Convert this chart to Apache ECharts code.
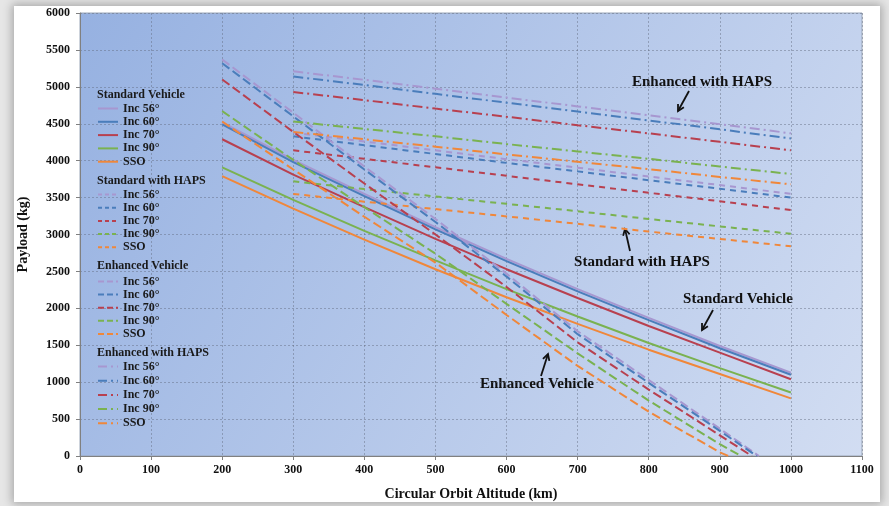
<!DOCTYPE html>
<html><head><meta charset="utf-8">
<script src="https://cdn.jsdelivr.net/npm/echarts@6/dist/echarts.min.js"></script>
<style>
html,body{margin:0;padding:0;width:889px;height:506px;overflow:hidden;background:#e6e6e6;}
#card{position:absolute;left:14px;top:6px;width:866px;height:496px;background:#fff;box-shadow:0 0 9px 2px rgba(0,0,0,0.28);}
#chart{position:absolute;left:0;top:0;width:889px;height:506px;}
</style></head><body><div id="card"></div><div id="chart"></div>
<script>
// ---------- DATA ----------
const xTicks = [0,100,200,300,400,500,600,700,800,900,1000,1100];
const yTicks = [0,500,1000,1500,2000,2500,3000,3500,4000,4500,5000,5500,6000];
const incNames = ['Inc 56°','Inc 60°','Inc 70°','Inc 90°','SSO'];

// Standard Vehicle (solid)
const altStd = [200,300,400,500,600,700,800,900,1000];
const sv56  = [4520,4010,3550,3100,2670,2260,1870,1490,1130];
const sv60  = [4490,3980,3520,3070,2640,2230,1840,1460,1100];
const sv70  = [4290,3810,3370,2940,2530,2140,1760,1400,1040];
const sv90  = [3910,3470,3050,2650,2260,1890,1530,1190,860];
const svSSO = [3790,3350,2930,2530,2150,1790,1440,1110,780];

// Standard with HAPS (dashed)
const altHaps = [300,400,500,600,700,800,900,1000];
const sh56  = [4380,4260,4140,4020,3905,3785,3670,3550];
const sh60  = [4330,4210,4090,3970,3855,3735,3620,3500];
const sh70  = [4140,4025,3910,3795,3680,3565,3450,3330];
const sh90  = [3720,3615,3515,3415,3315,3210,3110,3010];
const shSSO = [3550,3445,3345,3245,3145,3040,2940,2840];

// Enhanced Vehicle (long dash) - altitudes incl. point where payload reaches zero
const altE56  = [200,300,400,500,600,700,800,900,955];
const altE60  = [200,300,400,500,600,700,800,900,952];
const altE70  = [200,300,400,500,600,700,800,900,945];
const altE90  = [200,300,400,500,600,700,800,900,930];
const altESSO = [200,300,400,500,600,700,800,900,912];
const ev56  = [5370,4650,3920,3210,2470,1690,1030,370,0];
const ev60  = [5320,4600,3880,3170,2430,1650,990,340,0];
const ev70  = [5100,4390,3690,3000,2290,1540,900,280,0];
const ev90  = [4670,4010,3370,2740,2060,1390,750,160,0];
const evSSO = [4530,3880,3240,2620,1910,1220,600,50,0];

// Enhanced with HAPS (dash-dot)
const eh56  = [5210,5095,4975,4855,4735,4615,4495,4370];
const eh60  = [5140,5025,4905,4785,4665,4545,4425,4300];
const eh70  = [4930,4820,4705,4595,4480,4370,4255,4140];
const eh90  = [4530,4430,4330,4225,4125,4025,3920,3820];
const ehSSO = [4390,4290,4190,4085,3985,3885,3780,3680];

// ---------- STYLE ----------
const colors = ['#a797d0','#4a7dbb','#b8404f','#7ab250','#f0873a'];
const serif = '"Liberation Serif","DejaVu Serif",serif';
const groups = [
  {key:'SV', title:'Standard Vehicle', dash:'solid', legDash:'solid', xs:[altStd,altStd,altStd,altStd,altStd], ys:[sv56,sv60,sv70,sv90,svSSO], top:102, gap:0.3, headY:96},
  {key:'SH', title:'Standard with HAPS', dash:[6,5], legDash:[4,3], xs:[altHaps,altHaps,altHaps,altHaps,altHaps], ys:[sh56,sh60,sh70,sh90,shSSO], top:188, gap:0.2, headY:182},
  {key:'EV', title:'Enhanced Vehicle', dash:[9,4], legDash:[6,3], xs:[altE56,altE60,altE70,altE90,altESSO], ys:[ev56,ev60,ev70,ev90,evSSO], top:275, gap:0.1, headY:267},
  {key:'EH', title:'Enhanced with HAPS', dash:[10,4,2,4], legDash:[9,4,2,4], xs:[altHaps,altHaps,altHaps,altHaps,altHaps], ys:[eh56,eh60,eh70,eh90,ehSSO], top:360, gap:1.2, headY:354}
];

const series = [];
const legends = [];
const graphics = [];
groups.forEach(g => {
  const names = [];
  incNames.forEach((n,i) => {
    const name = g.key + '|' + n;
    names.push({name:name, itemStyle:{opacity:0}, lineStyle:{color:colors[i], width:2, type:g.legDash}});
    series.push({
      name: name, type:'line', symbol:'none', silent:true,
      data: g.xs[i].map((x,k) => [x, g.ys[i][k]]),
      lineStyle:{color:colors[i], width:2, type:g.dash},
      itemStyle:{color:colors[i]}
    });
  });
  legends.push({
    data: names, orient:'vertical', left:97, top:g.top, padding:0,
    itemWidth:20, itemHeight:8, itemGap:g.gap, selectedMode:false,
    formatter: nm => nm.split('|')[1],
    textStyle:{fontFamily:serif, fontWeight:'bold', fontSize:12, color:'#1a1a1a', lineHeight:13}
  });
  graphics.push({type:'text', left:97, top:g.headY-7, style:{text:g.title, fontFamily:serif, fontWeight:'bold', fontSize:12, fill:'#1a1a1a'}});
});

function label(txt, cx, cy){
  return {type:'text', x:cx, y:cy, style:{text:txt, fontFamily:serif, fontWeight:'bold', fontSize:15, fill:'#111', align:'center', verticalAlign:'middle'}};
}
function arrow(x1,y1,x2,y2){
  const a = Math.atan2(y2-y1, x2-x1), L = 7, w = 0.5;
  return [
    {type:'line', shape:{x1:x1,y1:y1,x2:x2,y2:y2}, style:{stroke:'#111', lineWidth:1.8}},
    {type:'polyline', shape:{points:[[x2-L*Math.cos(a-w), y2-L*Math.sin(a-w)],[x2,y2],[x2-L*Math.cos(a+w), y2-L*Math.sin(a+w)]]}, style:{stroke:'#111', lineWidth:1.8, fill:null}}
  ];
}
graphics.push(label('Enhanced with HAPS', 702, 82));
graphics.push(...arrow(689, 91, 678, 111));
graphics.push(label('Standard with HAPS', 642, 262));
graphics.push(...arrow(630, 251, 625, 229));
graphics.push(label('Standard Vehicle', 738, 299));
graphics.push(...arrow(713, 310, 702, 330));
graphics.push(label('Enhanced Vehicle', 537, 384));
graphics.push(...arrow(541, 376, 548, 354));

const axisLabelStyle = {fontFamily:serif, fontWeight:'bold', fontSize:12, color:'#111', formatter: v => String(v)};
const splitStyle = {show:true, lineStyle:{type:[2,2], color:'rgba(95,105,125,0.45)', width:1}};

const option = {
  animation:false,
  grid:{left:80, top:13, right:27, bottom:50, show:true,
    backgroundColor:{type:'linear', x:0, y:0, x2:1, y2:1, colorStops:[{offset:0,color:'#96b1e1'},{offset:1,color:'#d2ddf2'}]},
    borderColor:'#9aa6b8', borderWidth:1},
  xAxis:{type:'value', min:xTicks[0], max:xTicks[xTicks.length-1], interval:100,
    axisLine:{show:true, onZero:false, lineStyle:{color:'#808080'}},
    axisTick:{show:true, length:4, lineStyle:{color:'#808080'}},
    axisLabel:Object.assign({margin:8}, axisLabelStyle),
    splitLine:splitStyle,
    name:'Circular Orbit Altitude (km)', nameLocation:'middle', nameGap:31,
    nameTextStyle:{fontFamily:serif, fontWeight:'bold', fontSize:14, color:'#111'}},
  yAxis:{type:'value', min:yTicks[0], max:yTicks[yTicks.length-1], interval:500,
    axisLine:{show:true, lineStyle:{color:'#808080'}},
    axisTick:{show:true, length:4, lineStyle:{color:'#808080'}},
    axisLabel:Object.assign({margin:10}, axisLabelStyle),
    splitLine:splitStyle,
    name:'Payload (kg)', nameLocation:'middle', nameGap:50,
    nameTextStyle:{fontFamily:serif, fontWeight:'bold', fontSize:14, color:'#111'}},
  legend:legends,
  graphic:graphics,
  series:series
};
const chart = echarts.init(document.getElementById('chart'), null, {renderer:'canvas'});
chart.setOption(option);
</script></body></html>
